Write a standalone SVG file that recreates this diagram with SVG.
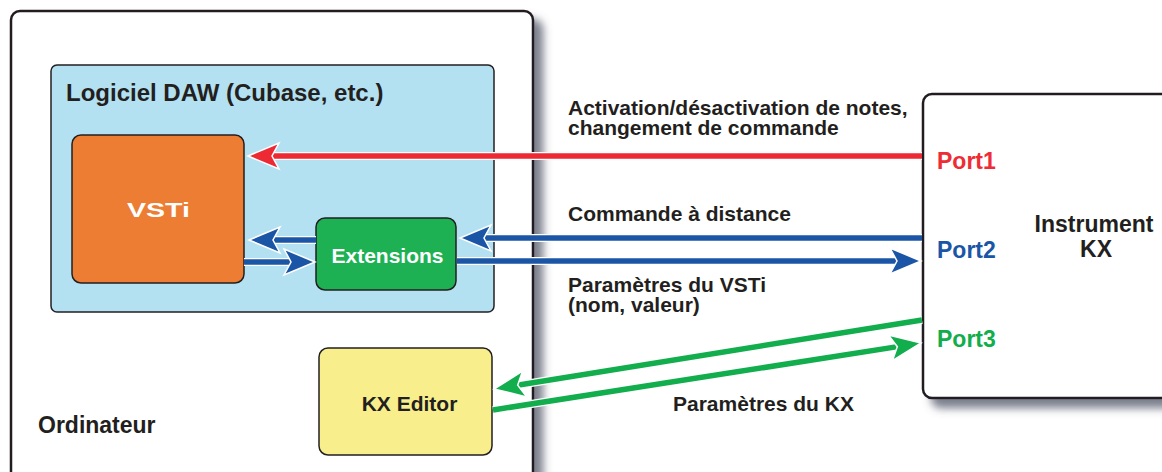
<svg xmlns="http://www.w3.org/2000/svg" width="1162" height="472" viewBox="0 0 1162 472">
  <defs>
    <style>
      text { font-family: "Liberation Sans", Arial, sans-serif; font-weight: bold; fill: #231f20; }
      .box { stroke: #231f20; stroke-width: 1.5; }
      .frame { fill: #ffffff; stroke: #231f20; stroke-width: 2.5; }
      .under { fill: none; stroke: #ffffff; stroke-width: 8; }
      .red { fill: none; stroke: #ed2a33; stroke-width: 5.5; }
      .blue { fill: none; stroke: #1b56a6; stroke-width: 5.5; }
      .green { fill: none; stroke: #12ad4c; stroke-width: 5.5; }
      .lbl { font-size: 21px; }
      .port { font-size: 23px; }
    </style>
    <filter id="shadow" x="-10%" y="-10%" width="125%" height="125%">
      <feOffset in="SourceAlpha" dx="9" dy="9" result="off"/>
      <feGaussianBlur in="off" stdDeviation="4" result="blur"/>
      <feFlood flood-color="#5a6070" flood-opacity="0.8"/>
      <feComposite in2="blur" operator="in" result="sh"/>
      <feMerge>
        <feMergeNode in="sh"/>
        <feMergeNode in="SourceGraphic"/>
      </feMerge>
    </filter>
    <marker id="ah-red" markerUnits="userSpaceOnUse" viewBox="-11 -15 35 30" markerWidth="35" markerHeight="30" refX="0" refY="0" orient="auto" overflow="visible">
      <path d="M22,0 L-9,-13 L-2,0 L-9,13 Z" fill="#ed2a33" stroke="#ffffff" stroke-width="1.5" stroke-linejoin="miter"/>
    </marker>
    <marker id="ah-blue" markerUnits="userSpaceOnUse" viewBox="-11 -15 35 30" markerWidth="35" markerHeight="30" refX="0" refY="0" orient="auto" overflow="visible">
      <path d="M22,0 L-9,-13 L-2,0 L-9,13 Z" fill="#1b56a6" stroke="#ffffff" stroke-width="1.5" stroke-linejoin="miter"/>
    </marker>
    <marker id="ah-green" markerUnits="userSpaceOnUse" viewBox="-11 -15 35 30" markerWidth="35" markerHeight="30" refX="0" refY="0" orient="auto" overflow="visible">
      <path d="M22,0 L-9,-13 L-2,0 L-9,13 Z" fill="#12ad4c" stroke="#ffffff" stroke-width="1.5" stroke-linejoin="miter"/>
    </marker>
  </defs>

  <rect x="0" y="0" width="1162" height="472" fill="#ffffff"/>

  <g id="node-ordinateur">
    <rect class="frame" x="11" y="11" width="522" height="480" rx="9" filter="url(#shadow)"/>
    <text x="38" y="433" font-size="23">Ordinateur</text>
  </g>

  <g id="node-daw">
    <rect class="box" x="51" y="65" width="443" height="247" rx="6" fill="#b3e1f2"/>
    <text x="66" y="101" font-size="24">Logiciel DAW (Cubase, etc.)</text>
  </g>

  <g id="node-vsti">
    <rect class="box" x="72" y="135" width="172" height="148" rx="9" fill="#ec7d33"/>
    <text x="127" y="217" font-size="21" textLength="63" lengthAdjust="spacingAndGlyphs" style="fill:#ffffff">VSTi</text>
  </g>

  <g id="node-extensions">
    <rect class="box" x="316" y="218" width="140" height="72" rx="9" fill="#1db154"/>
    <text x="387.5" y="263" class="lbl" text-anchor="middle" style="fill:#ffffff">Extensions</text>
  </g>

  <g id="node-kxeditor">
    <rect class="box" x="319" y="348" width="173" height="107" rx="9" fill="#f8ef8c"/>
    <text x="409.5" y="411" class="lbl" text-anchor="middle">KX Editor</text>
  </g>

  <g id="node-instrument">
    <rect class="frame" x="923" y="94" width="260" height="304" rx="9" filter="url(#shadow)"/>
    <text x="937" y="169" class="port" style="fill:#ee2c35">Port1</text>
    <text x="937" y="258" class="port" style="fill:#1b56a6">Port2</text>
    <text x="937" y="347" class="port" style="fill:#12ad4c">Port3</text>
    <text x="1094" y="232" class="port" text-anchor="middle">Instrument</text>
    <text x="1096" y="257" class="port" text-anchor="middle">KX</text>
  </g>

  <g id="connectors">
    <path class="under" d="M922,156 L270,156"/>
    <path class="red" d="M922,156 L270,156" marker-end="url(#ah-red)"/>

    <path class="under" d="M922,238 L482,238"/>
    <path class="blue" d="M922,238 L482,238" marker-end="url(#ah-blue)"/>

    <path class="under" d="M316,240 L271,240"/>
    <path class="blue" d="M316,240 L271,240" marker-end="url(#ah-blue)"/>

    <path class="under" d="M244,262 L293,262"/>
    <path class="blue" d="M244,262 L293,262" marker-end="url(#ah-blue)"/>

    <path class="under" d="M457,261 L899,261"/>
    <path class="blue" d="M457,261 L899,261" marker-end="url(#ah-blue)"/>

    <path class="under" d="M922,320 L515.7,385.5"/>
    <path class="green" d="M922,320 L515.7,385.5" marker-end="url(#ah-green)"/>

    <path class="under" d="M493,410 L899.3,346.4"/>
    <path class="green" d="M493,410 L899.3,346.4" marker-end="url(#ah-green)"/>
  </g>

  <g id="labels">
    <text x="568" y="115" class="lbl">Activation/désactivation de notes,</text>
    <text x="568" y="135" class="lbl">changement de commande</text>
    <text x="568" y="221" class="lbl">Commande à distance</text>
    <text x="568" y="292" class="lbl">Paramètres du VSTi</text>
    <text x="568" y="312" class="lbl">(nom, valeur)</text>
    <text x="673" y="411" class="lbl">Paramètres du KX</text>
  </g>
</svg>
